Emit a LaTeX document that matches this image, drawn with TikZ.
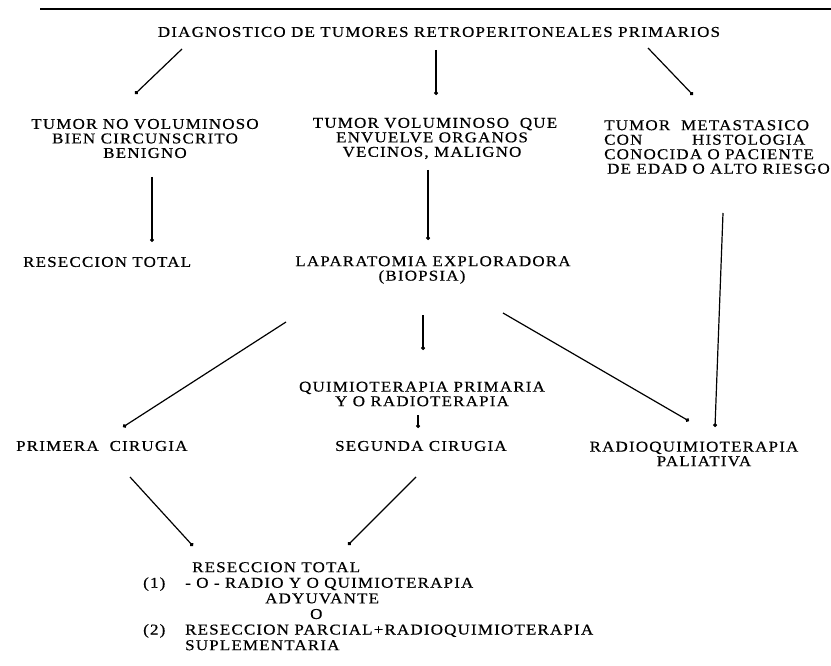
\documentclass[tikz,border=0pt]{standalone}
\usepackage{fontspec}
\setmainfont{Liberation Serif}[FakeStretch=1.13,LetterSpace=8,FakeBold=0.5]
\usetikzlibrary{arrows.meta,calc}
\begin{document}
\begin{tikzpicture}[x=1pt,y=-1pt,
  txt/.style={inner sep=0pt, font=\fontsize{15}{14.5}\selectfont},
  conn/.style={line width=1.2pt, -{Circle[length=3.8pt]}},
  rulestyle/.style={line width=1.6pt}
]
\fill[white] (0,0) rectangle (831,666);
\path[use as bounding box] (0,0) rectangle (831,666);

\coordinate (ruleL) at (40,9);
\coordinate (ruleR) at (831,9);
\draw[rulestyle] (ruleL) -- (ruleR);

\node[txt] (title) at (439,32) {DIAGNOSTICO DE TUMORES RETROPERITONEALES PRIMARIOS};

\node[txt,align=center] (n1) at (145,138.5) {TUMOR NO VOLUMINOSO\\BIEN CIRCUNSCRITO\\BENIGNO};
\node[txt,align=center] (n2) at (435,138.5) {TUMOR VOLUMINOSO\ \ QUE\\\hspace*{-6pt}ENVUELVE ORGANOS\\\hspace*{-6pt}VECINOS, MALIGNO};
\node[txt,align=left,anchor=west] (n3) at (604,147) {TUMOR\ \ METASTASICO\\\hbox to 201pt{CON\hfill HISTOLOGIA}\\CONOCIDA O PACIENTE\\\hspace*{3pt}DE EDAD O ALTO RIESGO};

\node[txt,anchor=west] (n4) at (23,262) {RESECCION TOTAL};
\node[txt,align=center] (n5) at (433,270) {LAPARATOMIA EXPLORADORA\\(BIOPSIA)\hspace*{22pt}};

\node[txt,align=center] (n6) at (422,394) {QUIMIOTERAPIA PRIMARIA\\Y O RADIOTERAPIA};

\node[txt,anchor=west] (n7) at (16,446) {PRIMERA\ \ CIRUGIA};
\node[txt,anchor=west] (n8) at (335,446) {SEGUNDA CIRUGIA};
\node[txt,align=center] (n9) at (694,454) {RADIOQUIMIOTERAPIA\\\hspace*{20pt}PALIATIVA};

\node[txt,align=left,anchor=north west,font=\fontsize{15}{15.6}\selectfont] (n10) at (143,562) {\hspace*{49pt}RESECCION TOTAL\\
\makebox[42pt][l]{(1)}- O - RADIO Y O QUIMIOTERAPIA\\
\hspace*{122pt}ADYUVANTE\\
\hspace*{167pt}O\\
\makebox[42pt][l]{(2)}RESECCION PARCIAL+RADIOQUIMIOTERAPIA\\
\hspace*{42pt}SUPLEMENTARIA};

\draw[conn] ($(title)+(-257,17)$) -- ($(n1)+(-10,-44.5)$);
\draw[conn] ($(title)+(-3,18)$) -- ($(n2)+(1,-43.5)$);
\draw[conn] ($(title)+(209,16)$) -- ($(n3.west)+(89,-52)$);
\draw[conn] ($(n1)+(7,38.5)$) -- ($(n4.west)+(129,-20)$);
\draw[conn] ($(n2)+(-7,31.5)$) -- ($(n5)+(-5,-30)$);
\draw[conn] ($(n3.west)+(119,66)$) -- ($(n9)+(21,-27)$);
\draw[conn] ($(n5)+(-147,52)$) -- ($(n7.west)+(107,-19)$);
\draw[conn] ($(n5)+(-10,45)$) -- ($(n6)+(1,-44)$);
\draw[conn] ($(n5)+(70,43)$) -- ($(n9)+(-5,-33)$);
\draw[conn] ($(n6)+(-4,21)$) -- ($(n8.west)+(83,-18)$);
\draw[conn] ($(n7.west)+(114,31)$) -- ($(n10.north west)+(50,-16)$);
\draw[conn] ($(n8.west)+(81,31)$) -- ($(n10.north west)+(205,-17)$);
\end{tikzpicture}
\end{document}
